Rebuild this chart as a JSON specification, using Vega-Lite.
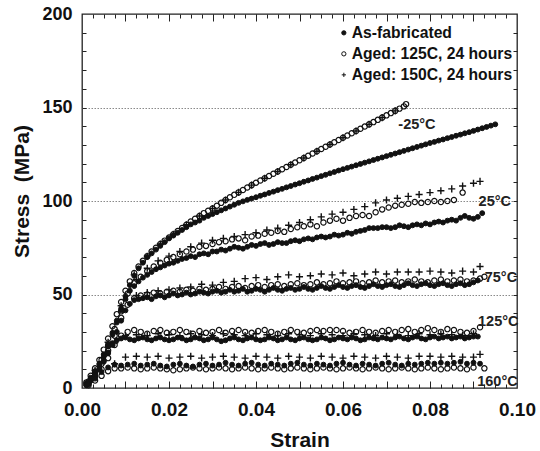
{
"$schema":"https://vega.github.io/schema/vega-lite/v6.json",
"width":435,"height":374,
"autosize":{"type":"none"},
"padding":{"left":82,"top":14,"right":23,"bottom":63},
"background":"white",
"config":{"font":"Liberation Sans","view":{"stroke":"#222","strokeWidth":1.3},"axis":{"labelColor":"#111","titleColor":"#111","tickColor":"#222","tickWidth":1}},
"datasets":{
"fab":[
{"x":0.001,"y":2.5},{"x":0.002,"y":5.5},{"x":0.003,"y":9},{"x":0.004,"y":13},{"x":0.005,"y":18},{"x":0.006,"y":23.5},{"x":0.007,"y":29.5},{"x":0.008,"y":36},{"x":0.009,"y":42.5},{"x":0.01,"y":49},{"x":0.011,"y":55},{"x":0.012,"y":60},{"x":0.013,"y":64},{"x":0.014,"y":67},{"x":0.015,"y":70},{"x":0.016,"y":72},{"x":0.017,"y":74},{"x":0.018,"y":76},{"x":0.019,"y":78},{"x":0.02,"y":80},{"x":0.021,"y":81.5},{"x":0.022,"y":83},{"x":0.023,"y":84.5},{"x":0.024,"y":86},{"x":0.025,"y":87.5},{"x":0.026,"y":88.5},{"x":0.027,"y":89.5},{"x":0.028,"y":91},{"x":0.029,"y":92},{"x":0.03,"y":93},{"x":0.031,"y":94},{"x":0.032,"y":95},{"x":0.033,"y":96},{"x":0.034,"y":97},{"x":0.035,"y":98},{"x":0.036,"y":99},{"x":0.037,"y":99.8},{"x":0.038,"y":100.6},{"x":0.039,"y":101.3},{"x":0.04,"y":102},{"x":0.041,"y":102.8},{"x":0.042,"y":103.5},{"x":0.043,"y":104.3},{"x":0.044,"y":105},{"x":0.045,"y":105.8},{"x":0.046,"y":106.5},{"x":0.047,"y":107.3},{"x":0.048,"y":108},{"x":0.049,"y":108.8},{"x":0.05,"y":109.5},{"x":0.051,"y":110.3},{"x":0.052,"y":111},{"x":0.053,"y":111.8},{"x":0.054,"y":112.5},{"x":0.055,"y":113.3},{"x":0.056,"y":114},{"x":0.057,"y":114.8},{"x":0.058,"y":115.5},{"x":0.059,"y":116.3},{"x":0.06,"y":117},{"x":0.061,"y":117.7},{"x":0.062,"y":118.4},{"x":0.063,"y":119.1},{"x":0.064,"y":119.8},{"x":0.065,"y":120.5},{"x":0.066,"y":121.2},{"x":0.067,"y":121.9},{"x":0.068,"y":122.6},{"x":0.069,"y":123.3},{"x":0.07,"y":124},{"x":0.071,"y":124.7},{"x":0.072,"y":125.4},{"x":0.073,"y":126.1},{"x":0.074,"y":126.8},{"x":0.075,"y":127.5},{"x":0.076,"y":128.2},{"x":0.077,"y":128.9},{"x":0.078,"y":129.6},{"x":0.079,"y":130.3},{"x":0.08,"y":131},{"x":0.081,"y":131.6},{"x":0.082,"y":132.3},{"x":0.083,"y":132.9},{"x":0.084,"y":133.6},{"x":0.085,"y":134.2},{"x":0.086,"y":134.9},{"x":0.087,"y":135.5},{"x":0.088,"y":136.2},{"x":0.089,"y":136.8},{"x":0.09,"y":137.5},{"x":0.091,"y":138.2},{"x":0.092,"y":138.9},{"x":0.093,"y":139.6},{"x":0.094,"y":140.3},{"x":0.095,"y":141},
{"x":0.001,"y":2},{"x":0.002,"y":5},{"x":0.003,"y":8.5},{"x":0.004,"y":12.5},{"x":0.005,"y":17},{"x":0.006,"y":22.5},{"x":0.007,"y":28.5},{"x":0.008,"y":35},{"x":0.009,"y":41.5},{"x":0.01,"y":47.5},{"x":0.011,"y":52},{"x":0.012,"y":54.5},{"x":0.013,"y":57},{"x":0.014,"y":59},{"x":0.015,"y":60.5},{"x":0.016,"y":62},{"x":0.017,"y":63.5},{"x":0.018,"y":64.5},{"x":0.019,"y":65.5},{"x":0.02,"y":66.5},{"x":0.021,"y":67},{"x":0.022,"y":68},{"x":0.023,"y":69},{"x":0.024,"y":69.5},{"x":0.025,"y":70.5},{"x":0.026,"y":70},{"x":0.027,"y":71.5},{"x":0.028,"y":72},{"x":0.029,"y":71.5},{"x":0.03,"y":73},{"x":0.031,"y":73},{"x":0.032,"y":74},{"x":0.033,"y":73.5},{"x":0.034,"y":74.5},{"x":0.035,"y":75.5},{"x":0.036,"y":75},{"x":0.037,"y":74.5},{"x":0.038,"y":75.5},{"x":0.039,"y":76.5},{"x":0.04,"y":76},{"x":0.041,"y":77},{"x":0.042,"y":77.5},{"x":0.043,"y":76.5},{"x":0.044,"y":77},{"x":0.045,"y":78},{"x":0.046,"y":77.5},{"x":0.047,"y":77.5},{"x":0.048,"y":78.5},{"x":0.049,"y":79},{"x":0.05,"y":78.5},{"x":0.051,"y":79.5},{"x":0.052,"y":80},{"x":0.053,"y":79.5},{"x":0.054,"y":80.5},{"x":0.055,"y":81},{"x":0.056,"y":80.5},{"x":0.057,"y":81},{"x":0.058,"y":82},{"x":0.059,"y":81.5},{"x":0.06,"y":82},{"x":0.061,"y":83},{"x":0.062,"y":82.5},{"x":0.063,"y":83.5},{"x":0.064,"y":84},{"x":0.065,"y":84.5},{"x":0.066,"y":85.5},{"x":0.067,"y":85.5},{"x":0.068,"y":85.5},{"x":0.069,"y":86},{"x":0.07,"y":86},{"x":0.071,"y":85.5},{"x":0.072,"y":86},{"x":0.073,"y":87},{"x":0.074,"y":86.5},{"x":0.075,"y":86},{"x":0.076,"y":87},{"x":0.077,"y":87.5},{"x":0.078,"y":87},{"x":0.079,"y":88},{"x":0.08,"y":87.5},{"x":0.081,"y":88.5},{"x":0.082,"y":89},{"x":0.083,"y":88.5},{"x":0.084,"y":89.5},{"x":0.085,"y":90},{"x":0.086,"y":89.5},{"x":0.087,"y":91},{"x":0.088,"y":92},{"x":0.089,"y":91},{"x":0.09,"y":90.5},{"x":0.091,"y":91.5},{"x":0.092,"y":93.5},
{"x":0.001,"y":1.5},{"x":0.002,"y":4},{"x":0.003,"y":7},{"x":0.004,"y":10},{"x":0.005,"y":14},{"x":0.006,"y":18.5},{"x":0.007,"y":24},{"x":0.008,"y":30},{"x":0.009,"y":36},{"x":0.01,"y":41.5},{"x":0.011,"y":45},{"x":0.012,"y":47},{"x":0.013,"y":47.5},{"x":0.014,"y":48},{"x":0.015,"y":48.5},{"x":0.016,"y":47.5},{"x":0.017,"y":49},{"x":0.018,"y":49.5},{"x":0.019,"y":48.5},{"x":0.02,"y":49.5},{"x":0.021,"y":50.5},{"x":0.022,"y":49.5},{"x":0.023,"y":50},{"x":0.024,"y":51},{"x":0.025,"y":50},{"x":0.026,"y":50.5},{"x":0.027,"y":51.5},{"x":0.028,"y":51},{"x":0.029,"y":50.5},{"x":0.03,"y":51.5},{"x":0.031,"y":52},{"x":0.032,"y":51},{"x":0.033,"y":51.5},{"x":0.034,"y":52.5},{"x":0.035,"y":51.5},{"x":0.036,"y":52},{"x":0.037,"y":53},{"x":0.038,"y":51.5},{"x":0.039,"y":52},{"x":0.04,"y":53},{"x":0.041,"y":52.5},{"x":0.042,"y":51.5},{"x":0.043,"y":52.5},{"x":0.044,"y":53.5},{"x":0.045,"y":52.5},{"x":0.046,"y":52},{"x":0.047,"y":53},{"x":0.048,"y":53.5},{"x":0.049,"y":52.5},{"x":0.05,"y":53},{"x":0.051,"y":54},{"x":0.052,"y":53},{"x":0.053,"y":52.5},{"x":0.054,"y":53.5},{"x":0.055,"y":54.5},{"x":0.056,"y":53.5},{"x":0.057,"y":53},{"x":0.058,"y":54},{"x":0.059,"y":55},{"x":0.06,"y":54},{"x":0.061,"y":53.5},{"x":0.062,"y":54.5},{"x":0.063,"y":55},{"x":0.064,"y":54},{"x":0.065,"y":53.5},{"x":0.066,"y":54.5},{"x":0.067,"y":55.5},{"x":0.068,"y":54.5},{"x":0.069,"y":54},{"x":0.07,"y":55},{"x":0.071,"y":55.5},{"x":0.072,"y":54.5},{"x":0.073,"y":54},{"x":0.074,"y":55},{"x":0.075,"y":56},{"x":0.076,"y":55},{"x":0.077,"y":54.5},{"x":0.078,"y":55.5},{"x":0.079,"y":56},{"x":0.08,"y":55},{"x":0.081,"y":54.5},{"x":0.082,"y":55.5},{"x":0.083,"y":56},{"x":0.084,"y":55},{"x":0.085,"y":54.5},{"x":0.086,"y":55.5},{"x":0.087,"y":56},{"x":0.088,"y":55},{"x":0.089,"y":55.5},{"x":0.09,"y":56.5},{"x":0.091,"y":57.5},
{"x":0.001,"y":1.5},{"x":0.002,"y":4},{"x":0.003,"y":7},{"x":0.004,"y":10.5},{"x":0.005,"y":14.5},{"x":0.006,"y":19},{"x":0.007,"y":23},{"x":0.008,"y":25.5},{"x":0.009,"y":26.5},{"x":0.01,"y":27},{"x":0.011,"y":26},{"x":0.012,"y":25.5},{"x":0.013,"y":26.5},{"x":0.014,"y":27},{"x":0.015,"y":26},{"x":0.016,"y":25.5},{"x":0.017,"y":26.5},{"x":0.018,"y":27},{"x":0.019,"y":26},{"x":0.02,"y":25.5},{"x":0.021,"y":26},{"x":0.022,"y":27},{"x":0.023,"y":26.5},{"x":0.024,"y":25.5},{"x":0.025,"y":26},{"x":0.026,"y":27},{"x":0.027,"y":26.5},{"x":0.028,"y":25.5},{"x":0.029,"y":26},{"x":0.03,"y":27},{"x":0.031,"y":26},{"x":0.032,"y":25},{"x":0.033,"y":25.5},{"x":0.034,"y":26.5},{"x":0.035,"y":27},{"x":0.036,"y":26},{"x":0.037,"y":25.5},{"x":0.038,"y":26.5},{"x":0.039,"y":27},{"x":0.04,"y":26},{"x":0.041,"y":25.5},{"x":0.042,"y":26},{"x":0.043,"y":27},{"x":0.044,"y":26.5},{"x":0.045,"y":25.5},{"x":0.046,"y":26},{"x":0.047,"y":27},{"x":0.048,"y":26},{"x":0.049,"y":25.5},{"x":0.05,"y":26.5},{"x":0.051,"y":27},{"x":0.052,"y":26},{"x":0.053,"y":25.5},{"x":0.054,"y":26},{"x":0.055,"y":27},{"x":0.056,"y":26.5},{"x":0.057,"y":25.5},{"x":0.058,"y":26},{"x":0.059,"y":27},{"x":0.06,"y":26.5},{"x":0.061,"y":26},{"x":0.062,"y":27},{"x":0.063,"y":26.5},{"x":0.064,"y":25.5},{"x":0.065,"y":26},{"x":0.066,"y":27},{"x":0.067,"y":26.5},{"x":0.068,"y":26},{"x":0.069,"y":27},{"x":0.07,"y":26.5},{"x":0.071,"y":26},{"x":0.072,"y":27},{"x":0.073,"y":27.5},{"x":0.074,"y":26.5},{"x":0.075,"y":26},{"x":0.076,"y":27},{"x":0.077,"y":27.5},{"x":0.078,"y":26.5},{"x":0.079,"y":26},{"x":0.08,"y":27},{"x":0.081,"y":27.5},{"x":0.082,"y":26.5},{"x":0.083,"y":27},{"x":0.084,"y":27.5},{"x":0.085,"y":26.5},{"x":0.086,"y":27},{"x":0.087,"y":27.5},{"x":0.088,"y":26.5},{"x":0.089,"y":27},{"x":0.09,"y":27.5},{"x":0.091,"y":27.5},
{"x":0.0015,"y":2},{"x":0.003,"y":5},{"x":0.0045,"y":8.5},{"x":0.006,"y":11},{"x":0.0075,"y":12.5},{"x":0.009,"y":12},{"x":0.0105,"y":12.5},{"x":0.012,"y":13},{"x":0.0135,"y":12},{"x":0.015,"y":12.5},{"x":0.0165,"y":13},{"x":0.018,"y":12},{"x":0.0195,"y":11.5},{"x":0.021,"y":12.5},{"x":0.0225,"y":13},{"x":0.024,"y":12},{"x":0.0255,"y":11.5},{"x":0.027,"y":12.5},{"x":0.0285,"y":13},{"x":0.03,"y":12},{"x":0.0315,"y":12.5},{"x":0.033,"y":13.5},{"x":0.0345,"y":12.5},{"x":0.036,"y":12},{"x":0.0375,"y":13},{"x":0.039,"y":13.5},{"x":0.0405,"y":12.5},{"x":0.042,"y":12},{"x":0.0435,"y":13},{"x":0.045,"y":12.5},{"x":0.0465,"y":12},{"x":0.048,"y":13},{"x":0.0495,"y":13.5},{"x":0.051,"y":12.5},{"x":0.0525,"y":12},{"x":0.054,"y":13},{"x":0.0555,"y":12.5},{"x":0.057,"y":12},{"x":0.0585,"y":13},{"x":0.06,"y":13.5},{"x":0.0615,"y":12.5},{"x":0.063,"y":12},{"x":0.0645,"y":13},{"x":0.066,"y":12.5},{"x":0.0675,"y":12},{"x":0.069,"y":13},{"x":0.0705,"y":13.5},{"x":0.072,"y":12.5},{"x":0.0735,"y":12},{"x":0.075,"y":13},{"x":0.0765,"y":12.5},{"x":0.078,"y":13},{"x":0.0795,"y":13.5},{"x":0.081,"y":13},{"x":0.0825,"y":13.5},{"x":0.084,"y":13},{"x":0.0855,"y":13.5},{"x":0.087,"y":14},{"x":0.0885,"y":13},{"x":0.09,"y":13.5},{"x":0.0915,"y":13}
],
"a125":[
{"x":0.001,"y":3},{"x":0.002,"y":6.5},{"x":0.003,"y":10.5},{"x":0.004,"y":15},{"x":0.005,"y":20.5},{"x":0.006,"y":26.5},{"x":0.007,"y":33},{"x":0.008,"y":39.5},{"x":0.009,"y":46},{"x":0.01,"y":52},{"x":0.011,"y":57},{"x":0.012,"y":61.5},{"x":0.013,"y":65},{"x":0.014,"y":68},{"x":0.015,"y":70.5},{"x":0.016,"y":73},{"x":0.017,"y":75},{"x":0.018,"y":77},{"x":0.019,"y":78.8},{"x":0.02,"y":80.5},{"x":0.021,"y":82.2},{"x":0.022,"y":83.9},{"x":0.023,"y":85.6},{"x":0.024,"y":87.3},{"x":0.025,"y":89},{"x":0.026,"y":90.5},{"x":0.027,"y":92},{"x":0.028,"y":93.5},{"x":0.029,"y":94.8},{"x":0.03,"y":96},{"x":0.031,"y":97.5},{"x":0.032,"y":99},{"x":0.033,"y":100.5},{"x":0.034,"y":102},{"x":0.035,"y":103.3},{"x":0.036,"y":104.6},{"x":0.037,"y":105.9},{"x":0.038,"y":107.2},{"x":0.039,"y":108.5},{"x":0.04,"y":109.8},{"x":0.041,"y":111},{"x":0.042,"y":112.2},{"x":0.043,"y":113.4},{"x":0.044,"y":114.6},{"x":0.045,"y":115.8},{"x":0.046,"y":117},{"x":0.047,"y":118.2},{"x":0.048,"y":119.4},{"x":0.049,"y":120.6},{"x":0.05,"y":121.8},{"x":0.051,"y":123},{"x":0.052,"y":124.2},{"x":0.053,"y":125.4},{"x":0.054,"y":126.6},{"x":0.055,"y":127.8},{"x":0.056,"y":129},{"x":0.057,"y":130.2},{"x":0.058,"y":131.4},{"x":0.059,"y":132.6},{"x":0.06,"y":133.8},{"x":0.061,"y":135},{"x":0.062,"y":136.2},{"x":0.063,"y":137.4},{"x":0.064,"y":138.6},{"x":0.065,"y":139.8},{"x":0.066,"y":141},{"x":0.067,"y":142.2},{"x":0.068,"y":143.4},{"x":0.069,"y":144.6},{"x":0.07,"y":145.8},{"x":0.071,"y":147},{"x":0.072,"y":148.2},{"x":0.073,"y":149.4},{"x":0.074,"y":150.6},{"x":0.0745,"y":151.8},
{"x":0.0015,"y":3.5},{"x":0.003,"y":8.5},{"x":0.0045,"y":15},{"x":0.006,"y":22.5},{"x":0.0075,"y":31.5},{"x":0.009,"y":41},{"x":0.0105,"y":50.5},{"x":0.012,"y":56},{"x":0.0135,"y":59.5},{"x":0.015,"y":62.5},{"x":0.0165,"y":65},{"x":0.018,"y":67},{"x":0.0195,"y":68.5},{"x":0.021,"y":70},{"x":0.0225,"y":71.5},{"x":0.024,"y":73},{"x":0.0255,"y":74},{"x":0.027,"y":75.5},{"x":0.0285,"y":76},{"x":0.03,"y":77},{"x":0.0315,"y":78},{"x":0.033,"y":78.5},{"x":0.0345,"y":79.5},{"x":0.036,"y":80},{"x":0.0375,"y":79},{"x":0.039,"y":81},{"x":0.0405,"y":81.5},{"x":0.042,"y":82.5},{"x":0.0435,"y":83},{"x":0.045,"y":84},{"x":0.0465,"y":83.5},{"x":0.048,"y":85},{"x":0.0495,"y":86},{"x":0.051,"y":86.5},{"x":0.0525,"y":87.5},{"x":0.054,"y":86.5},{"x":0.0555,"y":88.5},{"x":0.057,"y":89.5},{"x":0.0585,"y":90.5},{"x":0.06,"y":89.5},{"x":0.0615,"y":91},{"x":0.063,"y":92},{"x":0.0645,"y":92.5},{"x":0.066,"y":92},{"x":0.0675,"y":94},{"x":0.069,"y":95.5},{"x":0.0705,"y":96.5},{"x":0.072,"y":97.5},{"x":0.0735,"y":98},{"x":0.075,"y":98.5},{"x":0.0765,"y":99.5},{"x":0.078,"y":99},{"x":0.0795,"y":99.5},{"x":0.081,"y":100},{"x":0.0825,"y":99.5},{"x":0.084,"y":100},{"x":0.0855,"y":100.5},{"x":0.0875,"y":104.5},
{"x":0.0015,"y":3},{"x":0.003,"y":8},{"x":0.0045,"y":13},{"x":0.006,"y":20},{"x":0.0075,"y":28},{"x":0.009,"y":37.5},{"x":0.0105,"y":44.5},{"x":0.012,"y":48},{"x":0.0135,"y":49.5},{"x":0.015,"y":50},{"x":0.0165,"y":51},{"x":0.018,"y":50.5},{"x":0.0195,"y":51.5},{"x":0.021,"y":52},{"x":0.0225,"y":51.5},{"x":0.024,"y":52.5},{"x":0.0255,"y":52},{"x":0.027,"y":53},{"x":0.0285,"y":52.5},{"x":0.03,"y":53},{"x":0.0315,"y":54},{"x":0.033,"y":53},{"x":0.0345,"y":54},{"x":0.036,"y":54.5},{"x":0.0375,"y":53.5},{"x":0.039,"y":54.5},{"x":0.0405,"y":55},{"x":0.042,"y":54},{"x":0.0435,"y":55},{"x":0.045,"y":55.5},{"x":0.0465,"y":54.5},{"x":0.048,"y":55.5},{"x":0.0495,"y":56},{"x":0.051,"y":55},{"x":0.0525,"y":55.5},{"x":0.054,"y":56.5},{"x":0.0555,"y":55.5},{"x":0.057,"y":56},{"x":0.0585,"y":57},{"x":0.06,"y":56},{"x":0.0615,"y":56.5},{"x":0.063,"y":57},{"x":0.0645,"y":56},{"x":0.066,"y":56.5},{"x":0.0675,"y":57.5},{"x":0.069,"y":56.5},{"x":0.0705,"y":57},{"x":0.072,"y":57.5},{"x":0.0735,"y":56.5},{"x":0.075,"y":57},{"x":0.0765,"y":58},{"x":0.078,"y":57},{"x":0.0795,"y":56.5},{"x":0.081,"y":57.5},{"x":0.0825,"y":58},{"x":0.084,"y":57},{"x":0.0855,"y":57.5},{"x":0.087,"y":58},{"x":0.0885,"y":57},{"x":0.09,"y":57.5},{"x":0.0915,"y":58.5},{"x":0.0925,"y":59.5},
{"x":0.0015,"y":2.5},{"x":0.003,"y":6},{"x":0.0045,"y":10},{"x":0.006,"y":16},{"x":0.0075,"y":23},{"x":0.009,"y":28},{"x":0.0105,"y":30},{"x":0.012,"y":31},{"x":0.0135,"y":30},{"x":0.015,"y":29},{"x":0.0165,"y":30.5},{"x":0.018,"y":31},{"x":0.0195,"y":29.5},{"x":0.021,"y":30},{"x":0.0225,"y":31},{"x":0.024,"y":30},{"x":0.0255,"y":29},{"x":0.027,"y":30.5},{"x":0.0285,"y":29.5},{"x":0.03,"y":30},{"x":0.0315,"y":31},{"x":0.033,"y":29.5},{"x":0.0345,"y":30.5},{"x":0.036,"y":31},{"x":0.0375,"y":30},{"x":0.039,"y":29.5},{"x":0.0405,"y":30.5},{"x":0.042,"y":31},{"x":0.0435,"y":30},{"x":0.045,"y":29},{"x":0.0465,"y":30},{"x":0.048,"y":31},{"x":0.0495,"y":30},{"x":0.051,"y":29.5},{"x":0.0525,"y":30.5},{"x":0.054,"y":31},{"x":0.0555,"y":30.5},{"x":0.057,"y":31},{"x":0.0585,"y":31},{"x":0.06,"y":30.5},{"x":0.0615,"y":29.5},{"x":0.063,"y":30},{"x":0.0645,"y":31},{"x":0.066,"y":30},{"x":0.0675,"y":29.5},{"x":0.069,"y":30.5},{"x":0.0705,"y":31},{"x":0.072,"y":30},{"x":0.0735,"y":31},{"x":0.075,"y":31.5},{"x":0.0765,"y":30},{"x":0.078,"y":31},{"x":0.0795,"y":32},{"x":0.081,"y":31},{"x":0.0825,"y":30},{"x":0.084,"y":31.5},{"x":0.0855,"y":31},{"x":0.087,"y":30},{"x":0.0885,"y":29.5},{"x":0.09,"y":30.5},{"x":0.0915,"y":32.5},
{"x":0.0015,"y":1.5},{"x":0.003,"y":4},{"x":0.0045,"y":6.5},{"x":0.006,"y":9},{"x":0.0075,"y":10.5},{"x":0.009,"y":10.5},{"x":0.0105,"y":11},{"x":0.012,"y":10.5},{"x":0.0135,"y":10},{"x":0.015,"y":10.5},{"x":0.0165,"y":11},{"x":0.018,"y":10.5},{"x":0.0195,"y":10},{"x":0.021,"y":9.5},{"x":0.0225,"y":10},{"x":0.024,"y":10.5},{"x":0.0255,"y":11},{"x":0.027,"y":10.5},{"x":0.0285,"y":10},{"x":0.03,"y":10.5},{"x":0.0315,"y":11},{"x":0.033,"y":10.5},{"x":0.0345,"y":10},{"x":0.036,"y":10.5},{"x":0.0375,"y":11},{"x":0.039,"y":10.5},{"x":0.0405,"y":10},{"x":0.042,"y":10.5},{"x":0.0435,"y":11},{"x":0.045,"y":10.5},{"x":0.0465,"y":10},{"x":0.048,"y":10.5},{"x":0.0495,"y":11},{"x":0.051,"y":10.5},{"x":0.0525,"y":10},{"x":0.054,"y":10.5},{"x":0.0555,"y":11},{"x":0.057,"y":10.5},{"x":0.0585,"y":10},{"x":0.06,"y":10.5},{"x":0.0615,"y":11},{"x":0.063,"y":10.5},{"x":0.0645,"y":10},{"x":0.066,"y":10.5},{"x":0.0675,"y":11},{"x":0.069,"y":10.5},{"x":0.0705,"y":10},{"x":0.072,"y":10.5},{"x":0.0735,"y":11},{"x":0.075,"y":10.5},{"x":0.0765,"y":10},{"x":0.078,"y":10.5},{"x":0.0795,"y":11},{"x":0.081,"y":10.5},{"x":0.0825,"y":10},{"x":0.084,"y":10.5},{"x":0.0855,"y":11},{"x":0.087,"y":10.5},{"x":0.0885,"y":10},{"x":0.09,"y":11},{"x":0.0925,"y":10.5}
],
"a150":[
{"x":0.003,"y":9.5},{"x":0.006,"y":24.5},{"x":0.009,"y":44},{"x":0.012,"y":60.5},{"x":0.015,"y":70.5},{"x":0.018,"y":77},{"x":0.021,"y":82.2},{"x":0.024,"y":87.3},{"x":0.027,"y":92},{"x":0.03,"y":96},{"x":0.033,"y":100.5},{"x":0.036,"y":104.6},{"x":0.039,"y":108.5},{"x":0.042,"y":112.2},{"x":0.045,"y":115.8},{"x":0.048,"y":119.4},{"x":0.051,"y":123},{"x":0.054,"y":126.6},{"x":0.057,"y":130.2},{"x":0.06,"y":133.8},{"x":0.063,"y":137.4},{"x":0.066,"y":141},{"x":0.069,"y":144.6},{"x":0.072,"y":148.2},
{"x":0.0125,"y":58},{"x":0.015,"y":64},{"x":0.0175,"y":68},{"x":0.02,"y":70.5},{"x":0.0225,"y":73},{"x":0.025,"y":75.5},{"x":0.0275,"y":77.5},{"x":0.03,"y":79},{"x":0.0325,"y":80},{"x":0.035,"y":81},{"x":0.0375,"y":82},{"x":0.04,"y":83},{"x":0.0425,"y":84.5},{"x":0.045,"y":85.5},{"x":0.0475,"y":87},{"x":0.05,"y":88.5},{"x":0.0525,"y":90},{"x":0.055,"y":91.5},{"x":0.0575,"y":93},{"x":0.06,"y":94},{"x":0.0625,"y":95.5},{"x":0.065,"y":97},{"x":0.0675,"y":99},{"x":0.07,"y":100.5},{"x":0.0725,"y":101.5},{"x":0.075,"y":102.5},{"x":0.0775,"y":103.5},{"x":0.08,"y":104.5},{"x":0.0825,"y":105.5},{"x":0.085,"y":106.5},{"x":0.0875,"y":108},{"x":0.09,"y":109.5},{"x":0.0915,"y":110.5},
{"x":0.0125,"y":49.5},{"x":0.015,"y":51},{"x":0.0175,"y":52},{"x":0.02,"y":52.5},{"x":0.0225,"y":53.5},{"x":0.025,"y":54},{"x":0.0275,"y":55.5},{"x":0.03,"y":55},{"x":0.0325,"y":56.5},{"x":0.035,"y":57},{"x":0.0375,"y":58.5},{"x":0.04,"y":59},{"x":0.0425,"y":58},{"x":0.045,"y":59.5},{"x":0.0475,"y":60.5},{"x":0.05,"y":59.5},{"x":0.0525,"y":60},{"x":0.055,"y":61},{"x":0.0575,"y":60.5},{"x":0.06,"y":61.5},{"x":0.0625,"y":60},{"x":0.065,"y":61},{"x":0.0675,"y":62},{"x":0.07,"y":61},{"x":0.0725,"y":62},{"x":0.075,"y":62},{"x":0.0775,"y":62},{"x":0.08,"y":62.5},{"x":0.0825,"y":62},{"x":0.085,"y":61.5},{"x":0.0875,"y":62.5},{"x":0.09,"y":62},{"x":0.0915,"y":65},
{"x":0.0075,"y":24},{"x":0.01,"y":28},{"x":0.0125,"y":28.5},{"x":0.015,"y":28},{"x":0.0175,"y":29},{"x":0.02,"y":28.5},{"x":0.0225,"y":28},{"x":0.025,"y":29},{"x":0.0275,"y":28.5},{"x":0.03,"y":28},{"x":0.0325,"y":29},{"x":0.035,"y":28.5},{"x":0.0375,"y":28},{"x":0.04,"y":29},{"x":0.0425,"y":28.5},{"x":0.045,"y":28},{"x":0.0475,"y":29},{"x":0.05,"y":28.5},{"x":0.0525,"y":28},{"x":0.055,"y":29},{"x":0.0575,"y":28.5},{"x":0.06,"y":28},{"x":0.0625,"y":29},{"x":0.065,"y":28.5},{"x":0.0675,"y":28},{"x":0.07,"y":29},{"x":0.0725,"y":28.5},{"x":0.075,"y":28},{"x":0.0775,"y":29},{"x":0.08,"y":28.5},{"x":0.0825,"y":29},{"x":0.085,"y":28.5},{"x":0.0875,"y":28},{"x":0.09,"y":29},
{"x":0.0075,"y":13},{"x":0.01,"y":16.5},{"x":0.0125,"y":17},{"x":0.015,"y":16.5},{"x":0.0175,"y":17},{"x":0.02,"y":16},{"x":0.0225,"y":16.5},{"x":0.025,"y":17},{"x":0.0275,"y":16},{"x":0.03,"y":16.5},{"x":0.0325,"y":17},{"x":0.035,"y":16.5},{"x":0.0375,"y":16},{"x":0.04,"y":17},{"x":0.0425,"y":16.5},{"x":0.045,"y":16},{"x":0.0475,"y":17},{"x":0.05,"y":16.5},{"x":0.0525,"y":16},{"x":0.055,"y":17},{"x":0.0575,"y":16.5},{"x":0.06,"y":16},{"x":0.0625,"y":17},{"x":0.065,"y":16.5},{"x":0.0675,"y":16},{"x":0.07,"y":17},{"x":0.0725,"y":16.5},{"x":0.075,"y":16},{"x":0.0775,"y":17},{"x":0.08,"y":17},{"x":0.0825,"y":16.5},{"x":0.085,"y":17},{"x":0.0875,"y":16.5},{"x":0.09,"y":16.5},{"x":0.0915,"y":18}
],
"labels":[
{"x":0.077,"y":140.5,"t":"-25°C"},{"x":0.0949,"y":99.5,"t":"25°C"},{"x":0.0963,"y":58.8,"t":"75°C"},{"x":0.0957,"y":35.3,"t":"125°C"},{"x":0.0955,"y":3.2,"t":"160°C"}
]
},
"layer":[
{
"data":{"name":"a125"},
"mark":{"type":"point","filled":true,"size":28,"strokeWidth":1.2,"opacity":1,"clip":false},
"encoding":{
"x":{"field":"x","type":"quantitative","scale":{"domain":[0,0.1],"nice":false,"zero":false},
"axis":{"orient":"bottom","values":[0,0.02,0.04,0.06,0.08,0.1],"format":".2f","ticks":false,"tickSize":0,"domain":false,"grid":false,"labelFontSize":19,"labelFontWeight":"bold","labelPadding":12,"labelFlush":false,"labelOverlap":false,"labelBound":false,"title":"Strain","titleFontSize":21,"titleFontWeight":"bold","titleBaseline":"alphabetic","titleY":58}},
"y":{"field":"y","type":"quantitative","scale":{"domain":[0,200],"nice":false,"zero":false},
"axis":{"orient":"left","values":[0,50,100,150,200],"ticks":false,"tickSize":0,"domain":false,"grid":false,"labelFontSize":18,"labelFontWeight":"bold","labelPadding":10,"labelFlush":false,"labelOverlap":false,"title":"Stress \u00a0(MPa)","titleFontSize":21,"titleFontWeight":"bold","titleAngle":-90,"titleX":-60,"titleY":177,"titleBaseline":"middle","titleAlign":"center"}},
"shape":{"datum":"Aged: 125C, 24 hours","type":"nominal","scale":{"domain":["As-fabricated","Aged: 125C, 24 hours","Aged: 150C, 24 hours"],"range":["circle","circle","M-1,0H1M0,-1V1"]},
"legend":{"title":null,"orient":"none","legendX":254,"legendY":11,"padding":0,"labelFontSize":15.7,"labelFontWeight":"bold","labelColor":"#111","labelLimit":400,"symbolSize":18,"symbolStrokeWidth":1,"rowPadding":4,"labelOffset":0}},
"fill":{"datum":"Aged: 125C, 24 hours","type":"nominal","scale":{"domain":["As-fabricated","Aged: 125C, 24 hours","Aged: 150C, 24 hours"],"range":["#111","transparent","transparent"]},
"legend":{"title":null,"orient":"none","legendX":254,"legendY":11,"padding":0,"labelFontSize":15.7,"labelFontWeight":"bold","labelColor":"#111","labelLimit":400,"symbolSize":18,"symbolStrokeWidth":1,"rowPadding":4,"labelOffset":0}},
"stroke":{"datum":"Aged: 125C, 24 hours","type":"nominal","scale":{"domain":["As-fabricated","Aged: 125C, 24 hours","Aged: 150C, 24 hours"],"range":["#111","#111","#111"]},
"legend":{"title":null,"orient":"none","legendX":254,"legendY":11,"padding":0,"labelFontSize":15.7,"labelFontWeight":"bold","labelColor":"#111","labelLimit":400,"symbolSize":18,"symbolStrokeWidth":1,"rowPadding":4,"labelOffset":0}}
}
},
{
"data":{"name":"fab"},
"mark":{"type":"point","filled":true,"size":24,"strokeWidth":1,"opacity":1,"clip":false},
"encoding":{
"x":{"field":"x","type":"quantitative","scale":{"domain":[0,0.1],"nice":false,"zero":false},
"axis":{"orient":"bottom","offset":-7,"values":[0.01,0.02,0.03,0.04,0.05,0.06,0.07,0.08,0.09],"ticks":true,"tickSize":7,"labels":false,"domain":false,"grid":false,"title":null}},
"y":{"field":"y","type":"quantitative","scale":{"domain":[0,200],"nice":false,"zero":false},
"axis":{"orient":"left","offset":-4,"values":[10,20,30,40,50,60,70,80,90,100,110,120,130,140,150,160,170,180,190],"ticks":true,"tickSize":4,"labels":false,"domain":false,"grid":false,"title":null}},
"shape":{"datum":"As-fabricated","type":"nominal","scale":{"domain":["As-fabricated","Aged: 125C, 24 hours","Aged: 150C, 24 hours"],"range":["circle","circle","M-1,0H1M0,-1V1"]}},
"fill":{"datum":"As-fabricated","type":"nominal","scale":{"domain":["As-fabricated","Aged: 125C, 24 hours","Aged: 150C, 24 hours"],"range":["#111","transparent","transparent"]}},
"stroke":{"datum":"As-fabricated","type":"nominal","scale":{"domain":["As-fabricated","Aged: 125C, 24 hours","Aged: 150C, 24 hours"],"range":["#111","#111","#111"]}}
}
},
{
"data":{"name":"a150"},
"mark":{"type":"point","filled":true,"size":50,"strokeWidth":1.4,"opacity":1,"clip":false},
"encoding":{
"x":{"field":"x","type":"quantitative","scale":{"domain":[0,0.1],"nice":false,"zero":false},
"axis":{"orient":"bottom","offset":-4,"values":[0.0025,0.005,0.0075,0.01,0.0125,0.015,0.0175,0.02,0.0225,0.025,0.0275,0.03,0.0325,0.035,0.0375,0.04,0.0425,0.045,0.0475,0.05,0.0525,0.055,0.0575,0.06,0.0625,0.065,0.0675,0.07,0.0725,0.075,0.0775,0.08,0.0825,0.085,0.0875,0.09,0.0925,0.095,0.0975],"ticks":true,"tickSize":4,"labels":false,"domain":false,"grid":false,"title":null}},
"y":{"field":"y","type":"quantitative","scale":{"domain":[0,200],"nice":false,"zero":false},
"axis":{"orient":"right","offset":-4,"values":[10,20,30,40,50,60,70,80,90,100,110,120,130,140,150,160,170,180,190],"ticks":true,"tickSize":4,"labels":false,"domain":false,"grid":false,"title":null}},
"shape":{"datum":"Aged: 150C, 24 hours","type":"nominal","scale":{"domain":["As-fabricated","Aged: 125C, 24 hours","Aged: 150C, 24 hours"],"range":["circle","circle","M-1,0H1M0,-1V1"]}},
"fill":{"datum":"Aged: 150C, 24 hours","type":"nominal","scale":{"domain":["As-fabricated","Aged: 125C, 24 hours","Aged: 150C, 24 hours"],"range":["#111","transparent","transparent"]}},
"stroke":{"datum":"Aged: 150C, 24 hours","type":"nominal","scale":{"domain":["As-fabricated","Aged: 125C, 24 hours","Aged: 150C, 24 hours"],"range":["#111","#111","#111"]}}
}
},
{
"data":{"name":"labels"},
"mark":{"type":"text","fontSize":14.5,"fontWeight":"bold","fill":"#222","align":"center","baseline":"middle"},
"encoding":{
"x":{"field":"x","type":"quantitative","scale":{"domain":[0,0.1],"nice":false,"zero":false},
"axis":{"orient":"top","offset":-7,"values":[0.01,0.02,0.03,0.04,0.05,0.06,0.07,0.08,0.09],"ticks":true,"tickSize":7,"labels":false,"domain":false,"grid":false,"title":null}},
"y":{"field":"y","type":"quantitative","scale":{"domain":[0,200],"nice":false,"zero":false},
"axis":{"orient":"left","values":[50,100,150],"grid":true,"gridColor":"#8a8a8a","gridDash":[1.5,1.5],"gridWidth":1,"ticks":false,"labels":false,"domain":false,"title":null}},
"text":{"field":"t","type":"nominal"}
}
},
{
"data":{"name":"labels"},
"mark":{"type":"point","opacity":0},
"encoding":{
"x":{"field":"x","type":"quantitative","scale":{"domain":[0,0.1],"nice":false,"zero":false},
"axis":{"orient":"top","offset":-4,"values":[0.0025,0.005,0.0075,0.01,0.0125,0.015,0.0175,0.02,0.0225,0.025,0.0275,0.03,0.0325,0.035,0.0375,0.04,0.0425,0.045,0.0475,0.05,0.0525,0.055,0.0575,0.06,0.0625,0.065,0.0675,0.07,0.0725,0.075,0.0775,0.08,0.0825,0.085,0.0875,0.09,0.0925,0.095,0.0975],"ticks":true,"tickSize":4,"labels":false,"domain":false,"grid":false,"title":null}},
"y":{"field":"y","type":"quantitative","scale":{"domain":[0,200],"nice":false,"zero":false},"axis":null}
}
}
],
"resolve":{"axis":{"x":"independent","y":"independent"}}
}
